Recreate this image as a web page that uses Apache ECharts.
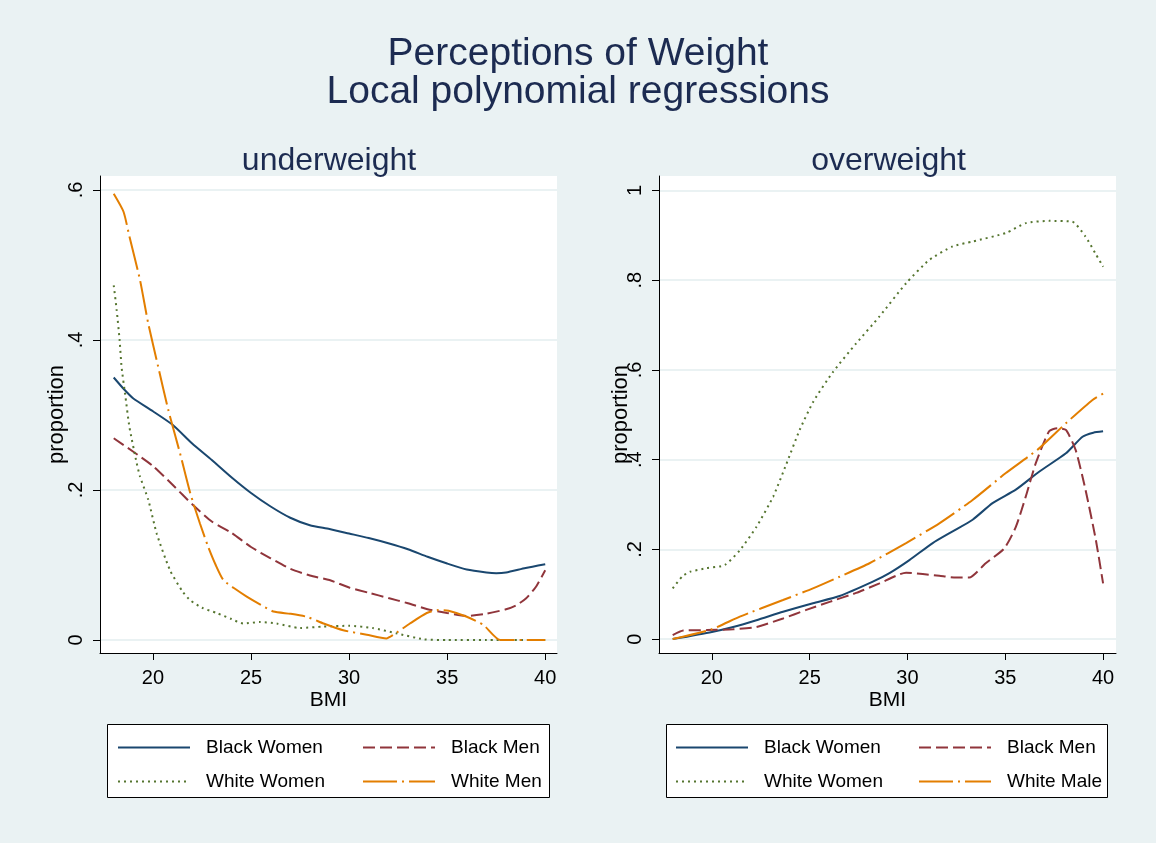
<!DOCTYPE html>
<html><head><meta charset="utf-8">
<script src="https://cdn.jsdelivr.net/npm/echarts@6/dist/echarts.min.js"></script>
<style>html,body{margin:0;padding:0;background:#EAF2F3}#c{width:1156px;height:843px}</style>
</head><body><div id="c"></div>
<script>
// ---- tick labels / categories ----
const bmiTicks = [20, 25, 30, 35, 40];
const uwTicks = [0, 0.2, 0.4, 0.6];
const owTicks = [0, 0.2, 0.4, 0.6, 0.8, 1];
const uwTickLabels = ['0', '.2', '.4', '.6'];
const owTickLabels = ['0', '.2', '.4', '.6', '.8', '1'];
const namesLeft = ['Black Women', 'Black Men', 'White Women', 'White Men'];
const namesRight = ['Black Women', 'Black Men', 'White Women', 'White Male'];

// ---- underweight panel: [BMI, proportion] ----
const uwBlackWomen = [[18,.35],[18.5,.335],[19,.322],[20,.305],[21,.287],[22,.262],[23,.24],[24,.217],[25,.196],[26,.178],[27,.163],[28,.153],[29,.148],[30,.142],[31,.136],[32,.129],[33,.121],[34,.111],[35,.102],[36,.094],[37,.09],[37.5,.089],[38,.09],[39,.096],[40,.101]];
const uwBlackMen = [[18,.269],[19,.251],[20,.232],[21,.207],[22,.181],[23,.158],[24,.143],[25,.124],[26,.109],[27,.095],[28,.086],[29,.08],[30,.07],[31,.063],[32,.056],[33,.049],[34,.041],[35,.036],[36,.032],[37,.035],[38,.041],[38.5,.046],[39,.055],[39.5,.07],[40,.093]];
const uwWhiteWomen = [[18,.473],[18.15,.44],[18.3,.40],[18.4,.364],[18.6,.324],[18.8,.284],[19.17,.236],[19.34,.218],[19.76,.187],[20.19,.142],[20.87,.093],[21.5,.065],[21.9,.053],[22.5,.043],[23.25,.036],[24,.028],[24.6,.022],[25.46,.024],[26.3,.022],[27.5,.016],[28.7,.018],[30,.019],[31.2,.016],[32.4,.009],[33.8,.001],[35,0],[37,0],[40,0]];
const uwWhiteMen = [[18,.595],[18.5,.571],[18.8,.538],[19.34,.48],[19.76,.422],[20.27,.364],[20.78,.307],[21.38,.249],[21.9,.196],[22.4,.155],[22.82,.124],[23.2,.1],[23.59,.08],[24.2,.068],[24.78,.058],[25.5,.047],[26.14,.038],[27,.035],[27.84,.031],[28.7,.022],[29.7,.013],[30.9,.007],[31.9,.002],[32.26,.007],[33.1,.022],[33.96,.036],[34.55,.04],[35.07,.039],[36,.031],[36.85,.02],[37.7,0],[40,0]];

// ---- overweight panel: [BMI, proportion] ----
const owBlackWomen = [[18,0],[20,.016],[21.09,.027],[22.28,.042],[23.64,.061],[25.17,.08],[26.53,.096],[28.23,.128],[29.08,.147],[30.1,.176],[31.29,.214],[32.31,.24],[33.33,.266],[34.35,.303],[35.54,.333],[36.73,.373],[38.1,.414],[38.95,.451],[39.5,.46],[40,.463]];
const owBlackMen = [[18,.009],[18.54,.019],[19.73,.02],[21.09,.022],[22.28,.027],[23.64,.046],[24.83,.065],[26.02,.083],[27.38,.103],[28.57,.124],[29.93,.148],[30.78,.145],[31.63,.141],[32.48,.137],[33.16,.137],[34,.169],[34.95,.202],[35.54,.25],[36.05,.318],[36.56,.392],[37.24,.463],[37.67,.47],[38.1,.466],[38.6,.421],[39.1,.333],[39.63,.221],[40,.124]];
const owWhiteWomen = [[18,.113],[18.5,.14],[18.88,.15],[19.73,.158],[20.66,.165],[21.43,.198],[22.28,.25],[23.13,.317],[23.81,.39],[24.49,.466],[25.2,.53],[26.19,.595],[27.38,.659],[28.57,.719],[29.93,.793],[31.12,.845],[32.31,.875],[33.33,.886],[35.03,.905],[36.05,.927],[37.24,.932],[38.43,.93],[39.1,.897],[39.6,.86],[40,.83]];
const owWhiteMale = [[18,0],[20,.022],[21.43,.05],[23.64,.087],[25.17,.113],[26.53,.139],[28.06,.169],[29.93,.214],[31.63,.258],[33.33,.31],[35.03,.37],[36.73,.425],[38.1,.481],[39.46,.533],[40,.547]];

const FONT = 'Liberation Sans, Arial, sans-serif';
const TITLE_COLOR = '#1c2b51';
const styles = [
  {color:'#1a476f', type:'solid'},
  {color:'#90353b', type:[12,5]},
  {color:'#55752f', type:[2,4]},
  {color:'#e37e00', type:[34,5,2,5]}
];
function labelFor(ticks, labels) {
  return v => {
    let best = 0;
    for (let i = 1; i < ticks.length; i++) if (Math.abs(ticks[i] - v) < Math.abs(ticks[best] - v)) best = i;
    return labels[best];
  };
}

function mkX(idx, min, max) {
  return {
    type:'value', gridIndex: idx, min, max,
    name:'BMI', nameLocation:'middle', nameGap:37, nameMoveOverlap:false,
    nameTextStyle:{fontFamily:FONT, fontSize:21, color:'#000'},
    axisLine:{onZero:false, lineStyle:{color:'#000', width:1}},
    axisTick:{customValues: bmiTicks, length:7, lineStyle:{color:'#000'}},
    axisLabel:{customValues: bmiTicks, fontFamily:FONT, fontSize:20, color:'#000', margin:15},
    splitLine:{show:false}
  };
}
function mkY(idx, min, max, ticks, labels, gap) {
  return {
    type:'value', gridIndex: idx, min, max,
    name:'proportion', nameLocation:'middle', nameGap:gap, nameMoveOverlap:false,
    nameTextStyle:{fontFamily:FONT, fontSize:22, color:'#000'},
    axisLine:{show:true, onZero:false, lineStyle:{color:'#000', width:1}},
    axisTick:{show:true, customValues: ticks, length:7, lineStyle:{color:'#000'}},
    axisLabel:{customValues: ticks, rotate:90, fontFamily:FONT, fontSize:20, color:'#000', margin:14, formatter: labelFor(ticks, labels)},
    splitLine:{show:true, lineStyle:{color:'#EAF2F3', width:2}}
  };
}
function mkSeries(name, data, i, panel) {
  return {
    type:'line', name, data, xAxisIndex:panel, yAxisIndex:panel,
    showSymbol:false, symbol:'none', smooth:0.2,
    lineStyle:{color:styles[i].color, type:styles[i].type, width:2},
    itemStyle:{color:styles[i].color}, z:3, silent:true
  };
}
function mkLegend(name, left, top) {
  return {
    data:[name], left, top, padding:0, itemWidth:72, itemHeight:14, itemGap:0,
    selectedMode:false,
    itemStyle:{opacity:0},
    textStyle:{fontFamily:FONT, fontSize:19, color:'#000', padding:[0,0,0,11]}
  };
}

const leftData = [uwBlackWomen, uwBlackMen, uwWhiteWomen, uwWhiteMen];
const rightData = [owBlackWomen, owBlackMen, owWhiteWomen, owWhiteMale];

const option = {
  backgroundColor:'#EAF2F3',
  animation:false,
  title:[
    {text:'Perceptions of Weight\nLocal polynomial regressions', left:'center', top:30,
     textStyle:{fontFamily:FONT, fontSize:39, fontWeight:'normal', color:TITLE_COLOR, lineHeight:38}},
    {text:'underweight', left:324, textAlign:'center', top:140,
     textStyle:{fontFamily:FONT, fontSize:32, fontWeight:'normal', color:TITLE_COLOR}},
    {text:'overweight', left:883.5, textAlign:'center', top:140,
     textStyle:{fontFamily:FONT, fontSize:32, fontWeight:'normal', color:TITLE_COLOR}}
  ],
  grid:[
    {left:100, top:176, width:457, height:477, show:true, backgroundColor:'#ffffff', borderWidth:0},
    {left:659, top:176, width:457, height:477, show:true, backgroundColor:'#ffffff', borderWidth:0}
  ],
  xAxis:[mkX(0, 17.3, 40.6), mkX(1, 17.3, 40.66)],
  yAxis:[mkY(0, -0.0173, 0.6187, uwTicks, uwTickLabels, 32), mkY(1, -0.031, 1.032, owTicks, owTickLabels, 27)],
  legend:[
    mkLegend(namesLeft[0], 117, 738), mkLegend(namesLeft[1], 362, 738),
    mkLegend(namesLeft[2], 117, 772), mkLegend(namesLeft[3], 362, 772),
    mkLegend(namesRight[0], 675, 738), mkLegend(namesRight[1], 918, 738),
    mkLegend(namesRight[2], 675, 772), mkLegend(namesRight[3], 918, 772)
  ],
  graphic:[
    {type:'rect', left:107, top:724, z:0, shape:{width:442, height:73}, style:{fill:'#fff', stroke:'#000', lineWidth:1}},
    {type:'rect', left:666, top:724, z:0, shape:{width:441, height:73}, style:{fill:'#fff', stroke:'#000', lineWidth:1}}
  ],
  series: [
    ...leftData.map((d, i) => mkSeries(namesLeft[i], d, i, 0)),
    ...rightData.map((d, i) => mkSeries(namesRight[i], d, i, 1))
  ]
};
const chart = echarts.init(document.getElementById('c'), null, {renderer:'canvas'});
chart.setOption(option);
</script>
</body></html>
